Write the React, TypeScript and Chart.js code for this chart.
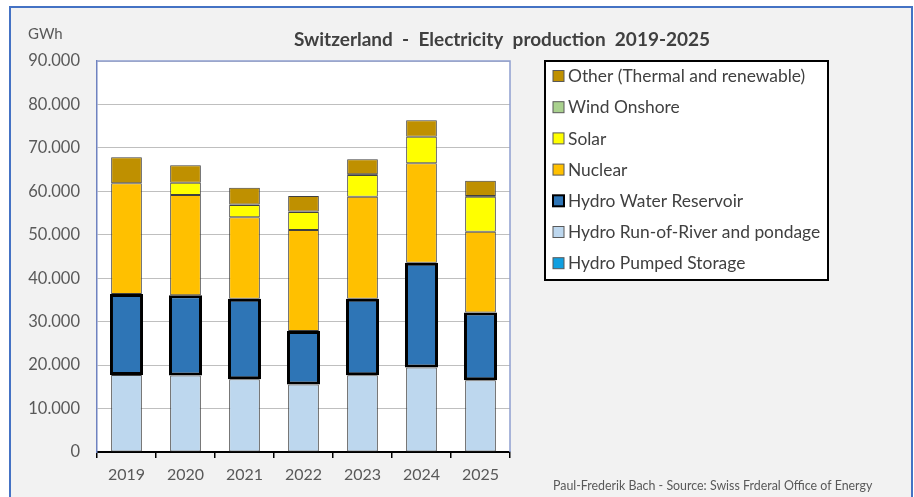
import React, { useEffect, useRef } from 'react';
import { Chart, registerables } from 'chart.js';

Chart.register(...registerables);

const years = ['2019', '2020', '2021', '2022', '2023', '2024', '2025'];
const pumpedStorage: (number | null)[] = [null, null, null, null, null, null, null];
const runOfRiver = [17700, 17600, 16750, 15530, 17670, 19450, 16520];
const waterReservoir = [18660, 18500, 18500, 12350, 17580, 24100, 15600];
const nuclear = [25510, 23050, 18760, 23200, 23510, 22900, 18570];
const solar: (number | null)[] = [null, 2830, 2830, 4150, 5000, 6130, 8070];
const windOnshore: (number | null)[] = [null, null, 150, 150, 150, null, 150];
const other = [5990, 4010, 3840, 3540, 3460, 3780, 3530];
const yTickLabels = ['0', '10.000', '20.000', '30.000', '40.000', '50.000', '60.000', '70.000', '80.000', '90.000'];

const titleText = 'Switzerland  -  Electricity  production  2019-2025';
const unitText = 'GWh';
const footerText = 'Paul-Frederik Bach - Source: Swiss Frderal Office of Energy';

const FONT = 'Lato, "Open Sans", sans-serif';

const decorPlugin = {
  id: 'decor',
  beforeDraw(chart: any) {
    const { ctx, width, height, chartArea } = chart;
    ctx.save();
    ctx.fillStyle = '#ffffff';
    ctx.fillRect(0, 0, width, height);
    ctx.fillStyle = '#f2f2f2';
    ctx.fillRect(10, 7, 902, height - 7);
    ctx.strokeStyle = '#4472c4';
    ctx.lineWidth = 2;
    ctx.beginPath();
    ctx.moveTo(10, height);
    ctx.lineTo(10, 7);
    ctx.lineTo(912, 7);
    ctx.lineTo(912, height);
    ctx.stroke();
    ctx.fillStyle = '#ffffff';
    ctx.fillRect(chartArea.left, chartArea.top, chartArea.right - chartArea.left, chartArea.bottom - chartArea.top);
    ctx.restore();
  },
  afterDraw(chart: any) {
    const { ctx, chartArea } = chart;
    ctx.save();
    ctx.strokeStyle = '#8f9fd0';
    ctx.lineWidth = 1.5;
    ctx.beginPath();
    ctx.moveTo(chartArea.left, chartArea.top);
    ctx.lineTo(chartArea.right, chartArea.top);
    ctx.lineTo(chartArea.right, chartArea.bottom);
    ctx.stroke();

    ctx.fillStyle = '#404040';
    ctx.font = `bold 19px ${FONT}`;
    ctx.textAlign = 'center';
    ctx.textBaseline = 'middle';
    ctx.fillText(titleText, 502, 40);

    ctx.fillStyle = '#595959';
    ctx.font = `15px ${FONT}`;
    ctx.textAlign = 'left';
    ctx.fillText(unitText, 28, 34);

    ctx.font = `12.4px ${FONT}`;
    ctx.fillText(footerText, 553, 486);

    const lx = 545, ly = 61, lw = 283, lh = 219;
    ctx.fillStyle = '#ffffff';
    ctx.fillRect(lx, ly, lw, lh);
    ctx.strokeStyle = '#000000';
    ctx.lineWidth = 2;
    ctx.strokeRect(lx, ly, lw, lh);

    const ds = chart.data.datasets.slice().reverse();
    ds.forEach((d: any, i: number) => {
      const cy = 76 + i * 31.2;
      ctx.fillStyle = d.backgroundColor;
      ctx.fillRect(553, cy - 5.5, 11, 11);
      ctx.strokeStyle = d.legendBorder;
      ctx.lineWidth = d.legendBorderWidth;
      ctx.strokeRect(553, cy - 5.5, 11, 11);
      ctx.fillStyle = '#404040';
      ctx.font = `17.4px ${FONT}`;
      ctx.textAlign = 'left';
      ctx.textBaseline = 'middle';
      ctx.fillText(d.label, 568, cy + 0.5);
    });
    ctx.restore();
  },
};

export default function App() {
  const ref = useRef<HTMLCanvasElement | null>(null);
  useEffect(() => {
    if (!ref.current) return;
    const thin = { borderColor: '#404040', borderWidth: 1, legendBorder: '#595959', legendBorderWidth: 1 };
    const chart = new Chart(ref.current, {
      type: 'bar',
      data: {
        labels: years,
        datasets: [
          { label: 'Hydro Pumped Storage', data: pumpedStorage, backgroundColor: '#109fe0', ...thin },
          { label: 'Hydro Run-of-River and pondage', data: runOfRiver, backgroundColor: '#bdd7ee', ...thin },
          { label: 'Hydro Water Reservoir', data: waterReservoir, backgroundColor: '#2e75b6', borderColor: '#000000', borderWidth: 3, barPercentage: 0.56, legendBorder: '#000000', legendBorderWidth: 2 },
          { label: 'Nuclear', data: nuclear, backgroundColor: '#ffc000', ...thin },
          { label: 'Solar', data: solar, backgroundColor: '#ffff00', ...thin },
          { label: 'Wind Onshore', data: windOnshore, backgroundColor: '#a9d18e', borderColor: '#000000', borderWidth: 1, legendBorder: '#595959', legendBorderWidth: 1 },
          { label: 'Other (Thermal and renewable)', data: other, backgroundColor: '#bf9000', ...thin },
        ] as any,
      },
      options: {
        animation: false,
        responsive: true,
        maintainAspectRatio: false,
        layout: { padding: { left: 0, right: 404, top: 61, bottom: 0 } },
        datasets: { bar: { barPercentage: 0.52, categoryPercentage: 1, borderSkipped: false } as any },
        plugins: {
          legend: { display: false },
          title: { display: false },
          tooltip: { enabled: false },
        },
        scales: {
          x: {
            stacked: true,
            afterFit: (s: any) => { s.height = 45; },
            grid: { display: true, offset: true, drawOnChartArea: false, drawTicks: true, tickLength: 6, color: '#000000', lineWidth: 1.5 },
            border: { display: true, color: '#000000', width: 2 },
            ticks: { color: '#595959', font: { family: FONT, size: 16 }, padding: 7 },
          },
          y: {
            stacked: true,
            min: 0,
            max: 90000,
            afterFit: (s: any) => { s.width = 97; },
            grid: { color: '#bfbfbf', lineWidth: 1, drawTicks: false },
            border: { display: true, color: '#6f82c0', width: 1.5 },
            ticks: {
              stepSize: 10000,
              color: '#595959',
              font: { family: FONT, size: 16.5 },
              padding: 17,
              callback: (_v: any, i: number) => yTickLabels[i],
            },
          },
        },
      },
      plugins: [decorPlugin],
    });
    return () => chart.destroy();
  }, []);
  return (
    <div style={{ position: 'fixed', left: 0, top: 0, width: 914, height: 497 }}>
      <canvas ref={ref} />
    </div>
  );
}
